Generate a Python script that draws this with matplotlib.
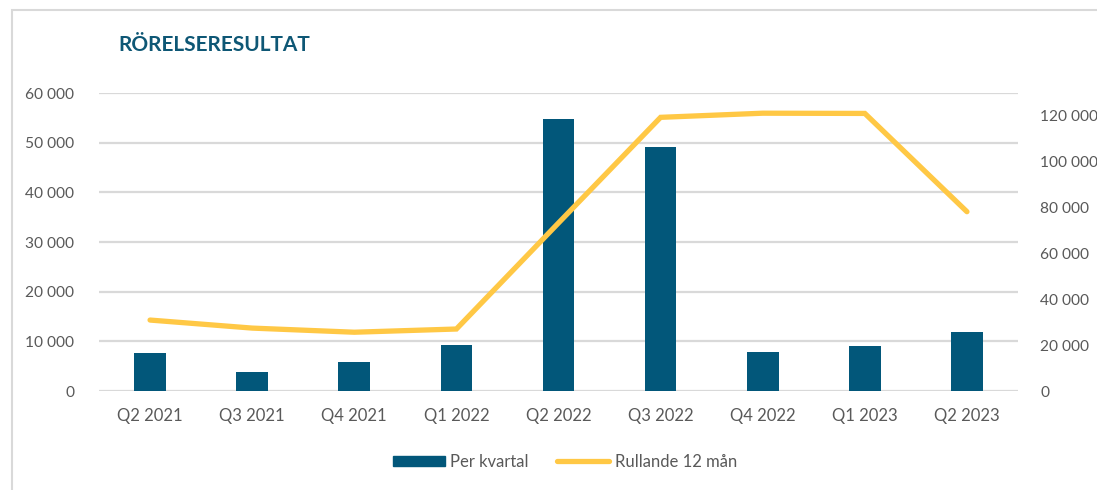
"""Rörelseresultat per kvartal + rullande 12 mån -> out.png"""

import matplotlib
matplotlib.use("Agg")
import matplotlib.pyplot as plt  # noqa: E402
from matplotlib.patches import Rectangle  # noqa: E402
from matplotlib.lines import Line2D  # noqa: E402
from matplotlib.ticker import FuncFormatter  # noqa: E402
import numpy as np  # noqa: E402

QUARTERS = ["Q2 2021", "Q3 2021", "Q4 2021", "Q1 2022", "Q2 2022",
            "Q3 2022", "Q4 2022", "Q1 2023", "Q2 2023"]
PER_KVARTAL = [7600, 3800, 5900, 9300, 54800, 49100, 7850, 9150, 11950]
RULLANDE_12 = [30900, 27400, 25600, 27000, 73200, 119200, 121000, 120900, 78100]

BAR_C = "#02577A"
LINE_C = "#FFC845"
TXT_C = "#595959"
GRID_C = "#D9D9D9"

plt.rcParams["font.family"] = ["Lato", "DejaVu Sans"]

fig = plt.figure(figsize=(10.97, 4.9), dpi=100)
# outer frame (chart box from the report)
fig.patches.append(Rectangle((12 / 1097, -0.2), 1.3, 1.2 - 10 / 490,
                             transform=fig.transFigure, fill=False,
                             ec="#D9D9D9", lw=1.5))

ax = fig.add_axes([99 / 1097, 1 - 391 / 490, 919 / 1097, 298 / 490])
ax2 = ax.twinx()

x = np.arange(len(QUARTERS))
ax.bar(x, PER_KVARTAL, 0.31, color=BAR_C, zorder=3)
ax2.plot(x, RULLANDE_12, color=LINE_C, lw=3.8, solid_capstyle="round",
         solid_joinstyle="miter", zorder=4)

ax.set_xlim(-0.5, len(QUARTERS) - 0.5)
ax.set_ylim(0, 60000)
ax2.set_ylim(0, 129800)
ax.set_yticks(np.arange(0, 60001, 10000))
ax2.set_yticks(np.arange(0, 120001, 20000))
fmt = FuncFormatter(lambda v, _: f"{int(v):,}".replace(",", " "))
ax.yaxis.set_major_formatter(fmt)
ax2.yaxis.set_major_formatter(fmt)
ax.set_xticks(x)
ax.set_xticklabels(QUARTERS)

ax.grid(axis="y", color=GRID_C, lw=1.6, zorder=0)
ax.set_axisbelow(True)
for a in (ax, ax2):
    for s in a.spines.values():
        s.set_visible(False)
    a.tick_params(length=0, labelsize=11.2, colors=TXT_C)
ax.tick_params(axis="x", labelsize=12, pad=12)
ax.tick_params(axis="y", pad=18)
ax2.tick_params(axis="y", pad=16)
ax2.set_zorder(ax.get_zorder() + 1)
ax2.patch.set_visible(False)

fig.text(118 / 1097, 1 - 45 / 490, "RÖRELSERESULTAT", fontsize=15,
         fontweight="bold", color="#0E5775", va="center", ha="left")

handles = [Rectangle((0, 0), 1, 1, color=BAR_C),
           Line2D([0], [0], color=LINE_C, lw=3.8, solid_capstyle="round")]
fig.legend(handles, ["Per kvartal", "Rullande 12 mån"], loc="center",
           bbox_to_anchor=(0.515, 1 - 462 / 490), ncol=2, frameon=False,
           fontsize=12, labelcolor=TXT_C, handlelength=3.1, handleheight=0.6,
           handletextpad=0.35, columnspacing=1.7)

fig.savefig("out.png", dpi=100)
